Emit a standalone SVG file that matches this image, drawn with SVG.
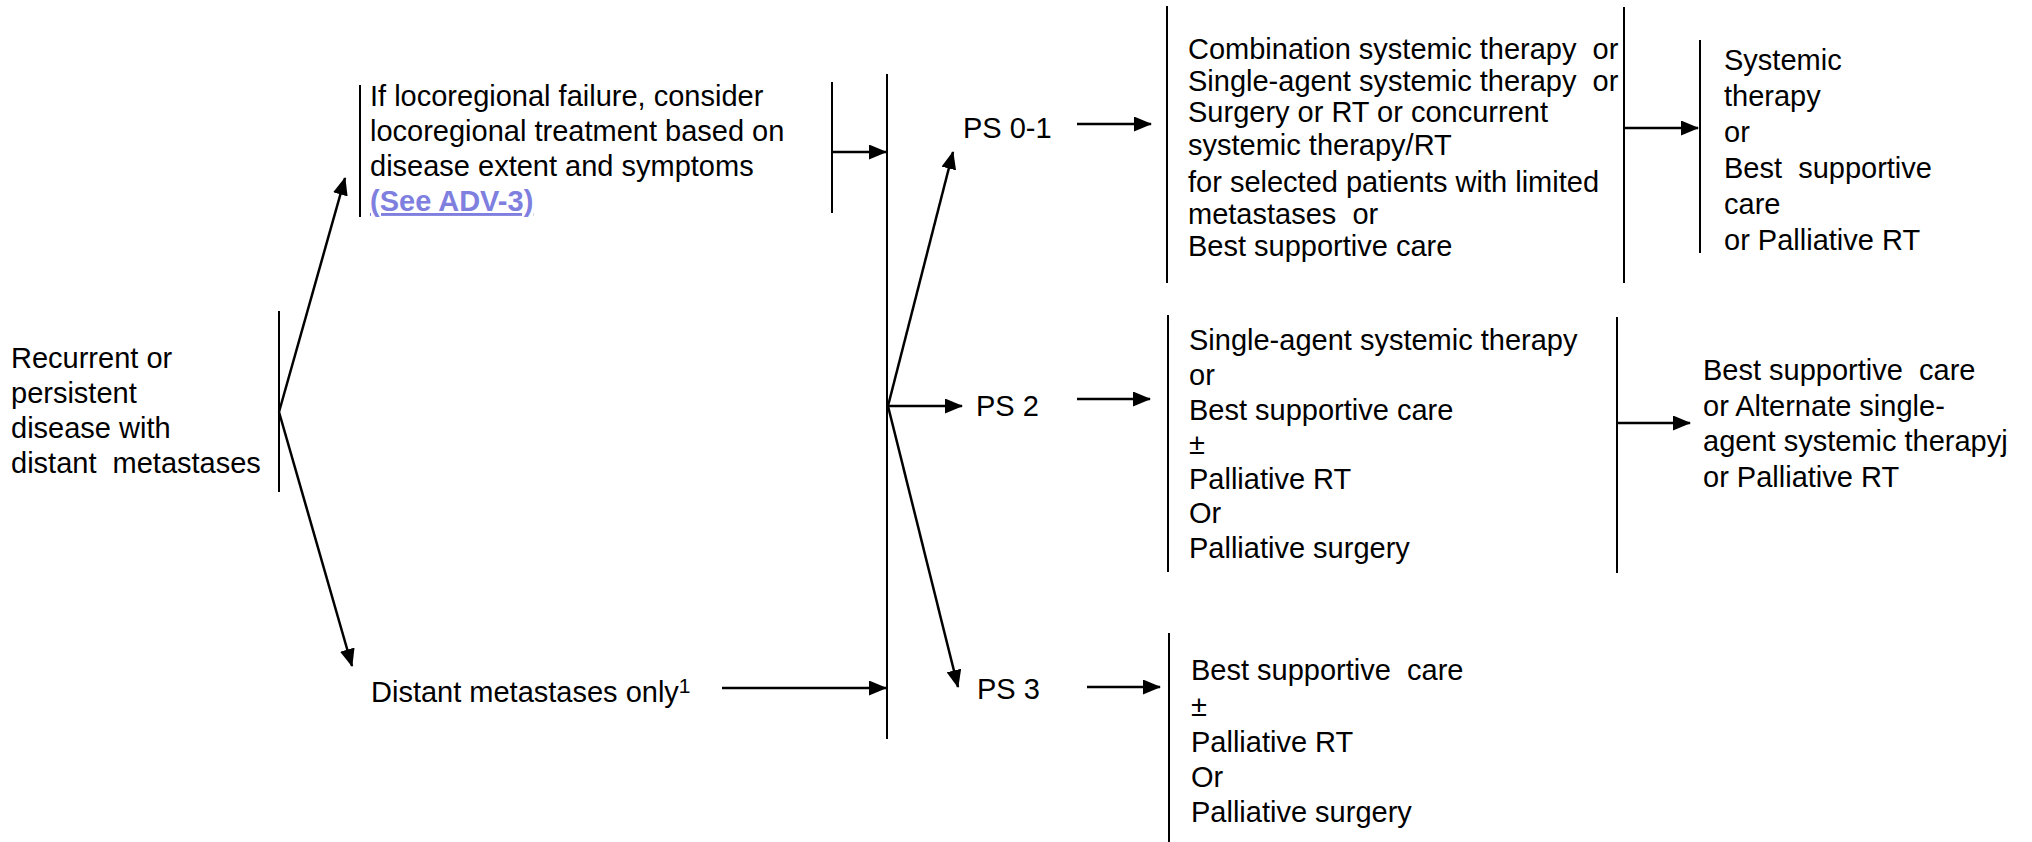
<svg xmlns="http://www.w3.org/2000/svg" width="2032" height="842" viewBox="0 0 2032 842">
<style>
text{font-family:"Liberation Sans",Arial,sans-serif;font-size:29px;fill:#000}
.bar{stroke:#000;stroke-width:2;fill:none}
.arr{stroke:#000;stroke-width:2.5;fill:none;marker-end:url(#ah)}
.link{fill:#7f7fdf;font-weight:bold;text-decoration:underline}
</style>
<defs>
<marker id="ah" markerUnits="userSpaceOnUse" markerWidth="18" markerHeight="15" viewBox="0 0 18 15" refX="17" refY="7.5" orient="auto">
<path d="M0,0 L18,7.5 L0,15 Z" fill="#000"/>
</marker>
</defs>
<rect width="2032" height="842" fill="#fff"/>
<g id="connectors">
<line class="arr" x1="279" y1="412" x2="345" y2="178"/>
<line class="arr" x1="279" y1="412" x2="352" y2="666"/>
<line class="arr" x1="832" y1="152" x2="886" y2="152"/>
<line class="arr" x1="722" y1="688" x2="886" y2="688"/>
<line class="arr" x1="888" y1="406" x2="953" y2="152"/>
<line class="arr" x1="888" y1="406" x2="962" y2="406"/>
<line class="arr" x1="888" y1="406" x2="958" y2="687"/>
<line class="arr" x1="1077" y1="124" x2="1151" y2="124"/>
<line class="arr" x1="1077" y1="399" x2="1150" y2="399"/>
<line class="arr" x1="1087" y1="687" x2="1160" y2="687"/>
<line class="arr" x1="1624" y1="128" x2="1698" y2="128"/>
<line class="arr" x1="1617" y1="423" x2="1690" y2="423"/>
</g>
<g id="start">
<text x="11" y="368">Recurrent or</text>
<text x="11" y="403">persistent</text>
<text x="11" y="438">disease with</text>
<text x="11" y="473" xml:space="preserve">distant  metastases</text>
<line class="bar" x1="279" y1="311" x2="279" y2="492"/>
</g>
<g id="locoregional">
<line class="bar" x1="360" y1="85" x2="360" y2="217"/>
<text x="370" y="106">If locoregional failure, consider</text>
<text x="370" y="141">locoregional treatment based on</text>
<text x="370" y="176">disease extent and symptoms</text>
<text x="370" y="211" class="link">(See ADV-3)</text>
<line class="bar" x1="832" y1="82" x2="832" y2="213"/>
</g>
<g id="distant">
<text x="371" y="702">Distant metastases only<tspan font-size="21" dy="-9">1</tspan></text>
</g>
<g id="ps-bar">
<line class="bar" x1="887" y1="74" x2="887" y2="739"/>
</g>
<g id="ps01"><text x="963" y="138">PS 0-1</text></g>
<g id="ps2"><text x="976" y="416">PS 2</text></g>
<g id="ps3"><text x="977" y="699">PS 3</text></g>
<g id="ps01-tx">
<line class="bar" x1="1167" y1="6" x2="1167" y2="283"/>
<text x="1188" y="59" xml:space="preserve">Combination systemic therapy  or</text>
<text x="1188" y="91" xml:space="preserve">Single-agent systemic therapy  or</text>
<text x="1188" y="122">Surgery or RT or concurrent</text>
<text x="1188" y="155">systemic therapy/RT</text>
<text x="1188" y="192">for selected patients with limited</text>
<text x="1188" y="224" xml:space="preserve">metastases  or</text>
<text x="1188" y="256">Best supportive care</text>
<line class="bar" x1="1624" y1="7" x2="1624" y2="283"/>
</g>
<g id="ps01-next">
<line class="bar" x1="1700" y1="40" x2="1700" y2="253"/>
<text x="1724" y="70">Systemic</text>
<text x="1724" y="106">therapy</text>
<text x="1724" y="142">or</text>
<text x="1724" y="178" xml:space="preserve">Best  supportive</text>
<text x="1724" y="214">care</text>
<text x="1724" y="250">or Palliative RT</text>
</g>
<g id="ps2-tx">
<line class="bar" x1="1168" y1="315" x2="1168" y2="572"/>
<text x="1189" y="350">Single-agent systemic therapy</text>
<text x="1189" y="385">or</text>
<text x="1189" y="420">Best supportive care</text>
<text x="1189" y="454">±</text>
<text x="1189" y="489">Palliative RT</text>
<text x="1189" y="523">Or</text>
<text x="1189" y="558">Palliative surgery</text>
<line class="bar" x1="1617" y1="317" x2="1617" y2="573"/>
</g>
<g id="ps2-next">
<text x="1703" y="380" xml:space="preserve">Best supportive  care</text>
<text x="1703" y="416">or Alternate single-</text>
<text x="1703" y="451">agent systemic therapyj</text>
<text x="1703" y="487">or Palliative RT</text>
</g>
<g id="ps3-tx">
<line class="bar" x1="1169" y1="633" x2="1169" y2="842"/>
<text x="1191" y="680" xml:space="preserve">Best supportive  care</text>
<text x="1191" y="716">±</text>
<text x="1191" y="752">Palliative RT</text>
<text x="1191" y="787">Or</text>
<text x="1191" y="822">Palliative surgery</text>
</g>
</svg>
